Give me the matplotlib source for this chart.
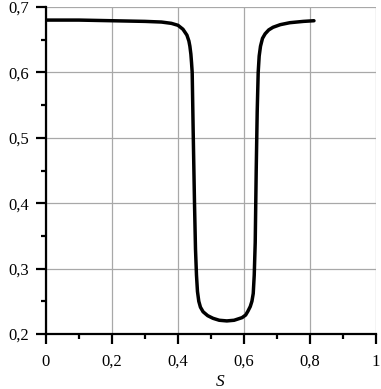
import numpy as np
import matplotlib
matplotlib.use("Agg")
import matplotlib.pyplot as plt
from matplotlib.ticker import MultipleLocator, FuncFormatter

plt.rcParams["font.family"] = ["Liberation Serif", "DejaVu Serif"]

# curve
s_vals = [0.0, 0.1, 0.2, 0.3, 0.35, 0.38, 0.40, 0.415, 0.427, 0.433, 0.436,
          0.439, 0.441, 0.443, 0.446, 0.450, 0.453, 0.456, 0.459, 0.463, 0.468,
          0.476, 0.49, 0.506, 0.525, 0.548, 0.57, 0.594, 0.605, 0.612, 0.619,
          0.624, 0.628, 0.631, 0.634, 0.637, 0.640, 0.643, 0.646, 0.650, 0.656,
          0.664, 0.675, 0.688, 0.71, 0.739, 0.78, 0.812]
y_vals = [0.680, 0.680, 0.679, 0.678, 0.677, 0.675, 0.672, 0.666, 0.657, 0.648,
          0.640, 0.628, 0.615, 0.600, 0.510, 0.400, 0.330, 0.290, 0.265, 0.250,
          0.241, 0.234, 0.228, 0.224, 0.221, 0.220, 0.221, 0.225, 0.229, 0.235,
          0.242, 0.250, 0.262, 0.290, 0.340, 0.450, 0.540, 0.600, 0.625, 0.640,
          0.652, 0.659, 0.665, 0.669, 0.673, 0.676, 0.678, 0.679]

x_ticks = [0, 0.2, 0.4, 0.6, 0.8, 1.0]
y_ticks = [0.2, 0.3, 0.4, 0.5, 0.6, 0.7]


def comma(v, pos):
    txt = "%g" % round(v, 3)
    return txt.replace(".", ",")


fig = plt.figure(figsize=(3.81, 3.89), dpi=100)
ax = fig.add_axes([46 / 381, 55 / 389, 330 / 381, 327 / 389])

ax.plot(s_vals, y_vals, color="black", lw=2.5, solid_joinstyle="round",
        solid_capstyle="round", zorder=3)

ax.set_xlim(0, 1)
ax.set_ylim(0.2, 0.7)
ax.set_xticks(x_ticks)
ax.set_yticks(y_ticks)
ax.xaxis.set_minor_locator(MultipleLocator(0.1))
ax.yaxis.set_minor_locator(MultipleLocator(0.05))
ax.xaxis.set_major_formatter(FuncFormatter(comma))
ax.yaxis.set_major_formatter(FuncFormatter(comma))

ax.grid(True, which="major", color="#a8a8a8", lw=0.9)
ax.set_axisbelow(True)

for side in ["top", "right"]:
    ax.spines[side].set_visible(False)
for side in ["left", "bottom"]:
    ax.spines[side].set_linewidth(1.6)

ax.tick_params(which="major", direction="out", length=7.5, width=1.6,
               labelsize=12, pad=5)
ax.tick_params(axis="x", which="major", pad=7)
ax.tick_params(which="minor", direction="out", length=3.8, width=1.6)

fig.text(220 / 381, 1 - 382 / 389, "S", fontsize=12.5, style="italic",
         ha="center", va="center")

fig.savefig("out.png", dpi=100)
